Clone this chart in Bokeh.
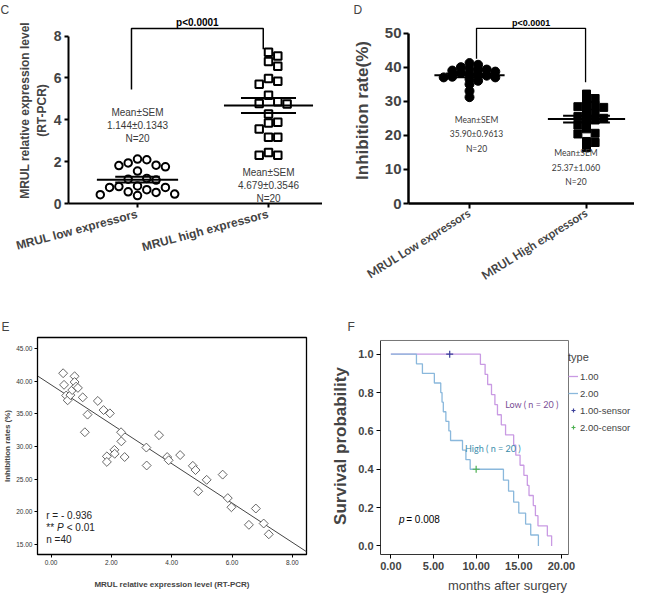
import numpy as np
from bokeh.plotting import figure
from bokeh.models import FixedTicker, Legend, LegendItem, NumeralTickFormatter, Range1d
from bokeh.layouts import column, row
from bokeh.core.properties import value
from bokeh.embed import file_html
from bokeh.resources import INLINE

# ---------------- data ----------------
c_categories = ["MRUL low expressors", "MRUL high expressors"]
c_low = [2.12, 2.09, 1.94, 1.83, 1.81, 1.75, 1.55, 1.20, 1.16, 1.12,
         0.84, 0.81, 0.77, 0.77, 0.66, 0.56, 0.53, 0.45, 0.42, 0.38]
c_high = [7.22, 7.05, 6.78, 6.55, 5.97, 5.84, 5.69, 5.17, 4.86, 4.78,
          4.75, 4.28, 3.88, 3.84, 3.56, 3.16, 3.16, 2.44, 2.31, 2.31]
c_yticks = [0, 2, 4, 6, 8]
c_stats = ["Mean±SEM\n1.144±0.1343\nN=20", "Mean±SEM\n4.679±0.3546\nN=20"]
c_ylabel = "MRUL relative expression level\n(RT-PCR)"

d_categories = ["MRUL Low expressors", "MRUL High expressors"]
d_low = [41.2, 40.7, 40.0, 39.5, 39.3, 39.2, 39.0, 38.7, 38.3, 38.0,
         37.7, 37.5, 37.2, 37.0, 37.0, 36.5, 36.0, 35.0, 33.0, 31.2]
d_high = [32.1, 30.8, 29.8, 28.7, 28.4, 28.2, 27.7, 26.5, 25.8, 25.5,
          25.0, 24.5, 24.0, 23.0, 21.9, 20.6, 20.4, 18.2, 17.9, 16.4]
d_yticks = [0, 10, 20, 30, 40, 50]
d_stats = ["Mean±SEM\n35.90±0.9613\nN=20", "Mean±SEM\n25.37±1.060\nN=20"]
d_ylabel = "Inhibition rate(%)"
p_text = "p<0.0001"

e_x = [0.40, 0.43, 0.50, 0.55, 0.64, 0.70, 0.78, 0.78, 0.83, 0.89,
       1.05, 1.21, 1.12, 1.55, 1.74, 1.95, 1.85, 1.85, 2.10, 2.11,
       2.32, 2.33, 2.44, 3.16, 3.17, 3.58, 3.85, 3.90, 4.28, 4.70,
       4.79, 4.88, 5.16, 5.69, 5.86, 5.98, 6.56, 6.79, 7.05, 7.22]
e_y = [41.25, 39.47, 37.83, 37.10, 37.90, 38.67, 40.78, 39.90, 39.20, 39.00,
       37.55, 34.90, 32.20, 37.00, 35.60, 35.10, 28.50, 27.65, 29.50, 28.90,
       32.20, 30.80, 28.40, 29.85, 27.10, 31.75, 28.40, 27.90, 28.70, 27.05,
       26.40, 23.15, 24.90, 25.70, 22.10, 20.70, 18.00, 20.50, 18.20, 16.55]
e_xticks = [0, 2, 4, 6, 8]
e_yticks = [15, 20, 25, 30, 35, 40, 45]
e_xlabel = "MRUL relative expression level (RT-PCR)"
e_ylabel = "Inhibition rates (%)"

f_low_events = [10.5, 11.05, 11.35, 11.8, 12.2, 12.5, 12.95, 13.45, 14.4, 14.65,
                15.15, 15.6, 16.0, 16.2, 16.7, 16.95, 17.25, 18.35, 18.85]
f_low_censored = [6.9]
f_high_events = [3.0, 3.7, 5.1, 5.85, 6.0, 6.15, 6.45, 6.8, 7.0, 8.4, 8.8, 9.3,
                 13.2, 13.8, 14.4, 15.0, 15.8, 16.4, 17.3]
f_high_censored = [10.0]
f_xticks = [0, 5, 10, 15, 20]
f_yticks = [0, 0.2, 0.4, 0.6, 0.8, 1.0]
f_legend = ["1.00", "2.00", "1.00-sensor", "2.00-censor"]

FONT = "Liberation Sans"


def make_fig(w, h, xr, yr, ml, mr, mt, mb, letter, offset, standoff):
    p = figure(width=w, height=h, x_range=Range1d(*xr), y_range=Range1d(*yr),
               output_backend="svg", toolbar_location=None,
               min_border_left=ml, min_border_right=mr,
               min_border_top=mt, min_border_bottom=mb)
    p.title.text = letter
    p.title.align = "left"
    p.title.offset = offset
    p.title.standoff = standoff
    p.title.text_font = FONT
    p.title.text_font_size = "12px"
    p.title.text_font_style = "normal"
    p.grid.visible = False
    p.outline_line_color = None
    p.background_fill_color = "white"
    p.border_fill_color = "white"
    for ax in (p.xaxis[0], p.yaxis[0]):
        ax.minor_tick_line_color = None
        ax.major_label_text_font = FONT
        ax.axis_label_text_font = FONT
    return p


def swarm(vals, center, sx, sy, diam, ythr=1.0):
    vals = np.asarray(vals, float)
    placed = []
    out = np.zeros(len(vals))
    cands = [0]
    for m in range(1, 15):
        cands += [m, -m]
    for i in np.argsort(-vals):
        yp = vals[i] * sy
        for c in cands:
            xp = c * diam
            if all(abs(xp - a) >= diam * 0.99 or abs(yp - b) >= diam * ythr for a, b in placed):
                break
        placed.append((xp, yp))
        out[i] = center + xp / sx
    return out


def mean_sem(v):
    v = np.asarray(v, float)
    return v.mean(), v.std(ddof=1) / np.sqrt(len(v))


# ================= top row (C, D): frames share top and bottom =================
TOP_H, TOP_MT, TOP_MB = 292, 17, 84
top_fh = TOP_H - TOP_MT - TOP_MB

# ---- Panel C ----
C_W, C_ML, C_MR = 322, 68, 0
c_sx, c_sy = 131.0, 21.5
c_x0 = 1 - 69 / c_sx
pC = make_fig(C_W, TOP_H, (c_x0, c_x0 + (C_W - C_ML - C_MR) / c_sx), (0, top_fh / c_sy),
              C_ML, C_MR, TOP_MT, TOP_MB, "C", -C_ML, 1)

pC.scatter(swarm(c_low, 1, c_sx, c_sy, 9.3), c_low, marker="circle", size=7.5,
           fill_color="white", line_color="black", line_width=2)
pC.scatter(swarm(c_high, 2, c_sx, c_sy, 9.3), c_high, marker="square", size=7.5,
           fill_color="white", line_color="black", line_width=2)
for cx, vals, hw, sw in ((1, c_low, 0.31, 0.17), (2, c_high, 0.34, 0.21)):
    m, s = mean_sem(vals)
    pC.segment(x0=[cx - hw, cx - sw, cx - sw], x1=[cx + hw, cx + sw, cx + sw],
               y0=[m, m - s, m + s], y1=[m, m - s, m + s], line_color="black", line_width=2)
pC.line([0.954, 0.954, 1.96, 1.96], [5.45, 8.36, 8.36, 7.37], line_color="black", line_width=1.5)
pC.text(x=[1.457], y=[8.64], text=[p_text], text_font=value(FONT), text_font_size="10px",
        text_font_style="bold", text_align="center", text_baseline="middle")
pC.text(x=[1.0, 2.0], y=[3.72, 0.87], text=c_stats, text_font=value(FONT), text_font_size="10px",
        text_color="#3a3a3a", text_align="center", text_baseline="middle", text_line_height=1.2)

pC.yaxis.ticker = FixedTicker(ticks=c_yticks)
pC.yaxis.bounds = (c_yticks[0], c_yticks[-1])
pC.yaxis.axis_label = c_ylabel
pC.yaxis.axis_label_text_font_size = "12px"
pC.yaxis.axis_label_text_font_style = "bold"
pC.yaxis.axis_label_standoff = 2
pC.yaxis.major_label_text_font_size = "14px"
pC.yaxis.major_label_text_font_style = "bold"
pC.yaxis.major_label_standoff = 3
pC.xaxis.ticker = FixedTicker(ticks=[1, 2])
pC.xaxis.major_label_overrides = {1: c_categories[0], 2: c_categories[1]}
pC.xaxis.major_label_orientation = np.deg2rad(15)
pC.xaxis.major_label_text_font_size = "12px"
pC.xaxis.major_label_text_font_style = "bold"
pC.xaxis.major_label_standoff = 6
for ax in (pC.xaxis[0], pC.yaxis[0]):
    ax.axis_line_width = 2
    ax.major_tick_line_width = 2
    ax.major_tick_out = 4
    ax.major_tick_in = 0

# ---- Panel D ----
D_W, D_ML, D_MR = 312, 86, 0
d_sx, d_sy = 117.0, 3.5
d_x0 = 1 - 61 / d_sx
pD = make_fig(D_W, TOP_H, (d_x0, d_x0 + (D_W - D_ML - D_MR) / d_sx), (0, top_fh / d_sy),
              D_ML, D_MR, TOP_MT, TOP_MB, "D", -55, 1)

pD.scatter(swarm(d_low, 1, d_sx, d_sy, 8.6, 0.6), d_low, marker="circle", size=9,
           color="black")
pD.scatter(swarm(d_high, 2, d_sx, d_sy, 8.6, 0.7), d_high, marker="square", size=8,
           color="black")
for cx, vals, hw, sw in ((1, d_low, 0.30, 0.2), (2, d_high, 0.33, 0.2)):
    m, s = mean_sem(vals)
    pD.segment(x0=[cx - hw, cx - sw, cx - sw], x1=[cx + hw, cx + sw, cx + sw],
               y0=[m, m - s, m + s], y1=[m, m - s, m + s], line_color="black", line_width=2)
pD.line([1.06, 1.06, 1.992, 1.992], [42.5, 51.4, 51.4, 35.6], line_color="black", line_width=1.3)
pD.text(x=[1.526], y=[53.1], text=[p_text], text_font=value(FONT), text_font_size="9px",
        text_font_style="bold", text_align="center", text_baseline="middle")
pD.text(x=[1.06, 1.91], y=[20.3, 10.5], text=d_stats, text_font=value("Lato"), text_font_size="8.5px",
        text_color="#3a3a3a", text_align="center", text_baseline="middle", text_line_height=1.45)

pD.yaxis.ticker = FixedTicker(ticks=d_yticks)
pD.yaxis.bounds = (d_yticks[0], d_yticks[-1])
pD.yaxis.axis_label = d_ylabel
pD.yaxis.axis_label_text_font_size = "17px"
pD.yaxis.axis_label_text_font_style = "bold"
pD.yaxis.axis_label_standoff = 10
pD.yaxis.major_label_text_font_size = "15px"
pD.yaxis.major_label_text_font_style = "bold"
pD.yaxis.major_label_standoff = 2
pD.xaxis.ticker = FixedTicker(ticks=[1, 2])
pD.xaxis.major_label_overrides = {1: d_categories[0], 2: d_categories[1]}
pD.xaxis.major_label_orientation = np.deg2rad(32)
pD.xaxis.major_label_text_font = "Lato"
pD.xaxis.major_label_text_font_size = "12px"
pD.xaxis.major_label_text_font_style = "bold"
pD.xaxis.major_label_standoff = 3
for ax in (pD.xaxis[0], pD.yaxis[0]):
    ax.axis_line_width = 2.5
    ax.major_tick_line_width = 2
    ax.major_tick_out = 5
    ax.major_tick_in = 0

# ================= bottom row (E, F): frames share top and bottom =================
BOT_H, BOT_MT, BOT_MB = 303, 45, 40
bot_fh = BOT_H - BOT_MT - BOT_MB

# ---- Panel E ----
E_W, E_ML, E_MR = 322, 36, 16
pE = make_fig(E_W, BOT_H, (-0.45, 8.47), (13.45, 46.73), E_ML, E_MR, BOT_MT, BOT_MB, "E", -E_ML, 8)
pE.outline_line_color = "black"
pE.outline_line_width = 1.3
slope, icpt = np.polyfit(e_x, e_y, 1)
xl = np.array([pE.x_range.start, pE.x_range.end])
pE.line(xl, slope * xl + icpt, line_color="#444444", line_width=1)
pE.scatter(e_x, e_y, marker="square", angle=np.pi / 4, size=6.3, fill_color="white",
           line_color="#555555", line_width=0.9)
pE.text(x=[-0.16, -0.16], y=[19.45, 15.8], text=["r  = - 0.936", "n  =40"], text_font=value(FONT),
        text_font_size="10px", text_baseline="middle", text_color="#222222")
pE.text(x=[-0.16], y=[17.6], text=["**"], text_font=value(FONT), text_font_size="10px",
        text_baseline="middle", text_color="#222222")
pE.text(x=[0.2], y=[17.6], text=["P"], text_font=value(FONT), text_font_size="10px",
        text_font_style="italic", text_baseline="middle", text_color="#222222")
pE.text(x=[0.52], y=[17.6], text=["< 0.01"], text_font=value(FONT), text_font_size="10px",
        text_baseline="middle", text_color="#222222")
pE.xaxis.ticker = FixedTicker(ticks=e_xticks)
pE.yaxis.ticker = FixedTicker(ticks=e_yticks)
pE.xaxis.formatter = NumeralTickFormatter(format="0.00")
pE.yaxis.formatter = NumeralTickFormatter(format="0.00")
pE.xaxis.axis_label = e_xlabel
pE.yaxis.axis_label = e_ylabel
for ax in (pE.xaxis[0], pE.yaxis[0]):
    ax.major_label_text_font_size = "6.5px"
    ax.major_label_text_color = "#333333"
    ax.major_label_standoff = 2
    ax.axis_label_text_font_size = "8px"
    ax.axis_label_text_font_style = "bold"
    ax.major_tick_out = 3
    ax.major_tick_in = 0
    ax.axis_line_color = "black"
pE.xaxis.axis_label_standoff = 12
pE.yaxis.axis_label_standoff = 1

# ---- Panel F ----
F_W, F_ML, F_MR = 312, 58, 0
f_box_x = (-1.216, 20.83)
f_box_y = (-0.0445, 1.0716)
f_box_right_px = 246
f_sx = (f_box_right_px - F_ML) / (f_box_x[1] - f_box_x[0])
f_fw = F_W - F_ML - F_MR
f_sy = (bot_fh - 3) / (f_box_y[1] - f_box_y[0])
f_yend = f_box_y[1] + 3 / f_sy
pF = make_fig(F_W, BOT_H, (f_box_x[0], f_box_x[0] + f_fw / f_sx), (f_box_y[0], f_yend),
              F_ML, F_MR, BOT_MT, BOT_MB, "F", -33, 8)


def km_steps(events, censored, n):
    times = sorted(set(events) | set(censored))
    at_risk, s = n, 1.0
    xs, ys, cx, cy = [0.0], [1.0], [], []
    for t in times:
        d, c = events.count(t), censored.count(t)
        if d:
            ns = s * (1 - d / at_risk)
            xs += [t, t]
            ys += [s, ns]
            s = ns
        if c:
            cx.append(t)
            cy.append(s)
        at_risk -= d + c
    return xs, ys, cx, cy


n_low = len(f_low_events) + len(f_low_censored)
n_high = len(f_high_events) + len(f_high_censored)
lx, ly, lcx, lcy = km_steps(f_low_events, f_low_censored, n_low)
hx, hy, hcx, hcy = km_steps(f_high_events, f_high_censored, n_high)
# plot box (top and right edges)
pF.line([f_box_x[0], f_box_x[1], f_box_x[1]], [f_box_y[1], f_box_y[1], f_box_y[0]],
        line_color="#777777", line_width=1)
r1 = pF.line(lx, ly, line_color="#c99ae3", line_width=1.3)
r2 = pF.line(hx, hy, line_color="#8ab8dc", line_width=1.3)
r3 = pF.scatter(lcx, lcy, marker="cross", size=7, line_color="#3b3f9a", line_width=1.2)
r4 = pF.scatter(hcx, hcy, marker="cross", size=7, line_color="#4cb050", line_width=1.2)
pF.text(x=[13.4], y=[0.74], text=["Low ( n = 20 )"], text_font=value("Lato"), text_font_size="9px",
        text_color="#7a4f96", text_baseline="middle")
pF.text(x=[8.7], y=[0.506], text=["High ( n = 20 )"], text_font=value("Lato"), text_font_size="9px",
        text_color="#3a8cab", text_baseline="middle")
pF.text(x=[0.95], y=[0.14], text=["p"], text_font=value(FONT), text_font_size="10px",
        text_font_style="italic", text_baseline="middle")
pF.text(x=[1.8], y=[0.14], text=["= 0.008"], text_font=value(FONT), text_font_size="10px",
        text_baseline="middle")

legend = Legend(items=[LegendItem(label=f_legend[0], renderers=[r1]),
                       LegendItem(label=f_legend[1], renderers=[r2]),
                       LegendItem(label=f_legend[2], renderers=[r3]),
                       LegendItem(label=f_legend[3], renderers=[r4])],
                title="type", location=(f_box_right_px - F_ML, 121))
legend.label_text_font = FONT
legend.label_text_font_size = "9.5px"
legend.title_text_font = FONT
legend.title_text_font_size = "11px"
legend.title_text_font_style = "normal"
legend.title_standoff = 7
legend.glyph_width = 10
legend.glyph_height = 12
legend.label_height = 12
legend.label_standoff = 2
legend.spacing = 5
legend.padding = 2
legend.margin = 0
legend.border_line_color = None
legend.background_fill_alpha = 0
pF.add_layout(legend)

pF.xaxis.ticker = FixedTicker(ticks=f_xticks)
pF.yaxis.ticker = FixedTicker(ticks=f_yticks)
pF.xaxis.bounds = f_box_x
pF.yaxis.bounds = f_box_y
pF.xaxis.formatter = NumeralTickFormatter(format="0.00")
pF.yaxis.formatter = NumeralTickFormatter(format="0.0")
pF.xaxis.axis_label = "months after surgery"
pF.yaxis.axis_label = "Survival probability"
pF.xaxis.axis_label_text_font_size = "13px"
pF.xaxis.axis_label_text_font_style = "normal"
pF.yaxis.axis_label_text_font_size = "17px"
pF.yaxis.axis_label_text_font_style = "bold"
for ax in (pF.xaxis[0], pF.yaxis[0]):
    ax.major_label_text_font_size = "11px"
    ax.major_label_text_font_style = "bold"
    ax.major_label_standoff = 3
    ax.major_tick_out = 4
    ax.major_tick_in = 0
    ax.axis_line_color = "#333333"
    ax.axis_label_standoff = 5

layout = column(row(pC, pD), row(pE, pF))
open("out.html", "w").write(file_html(layout, INLINE))
